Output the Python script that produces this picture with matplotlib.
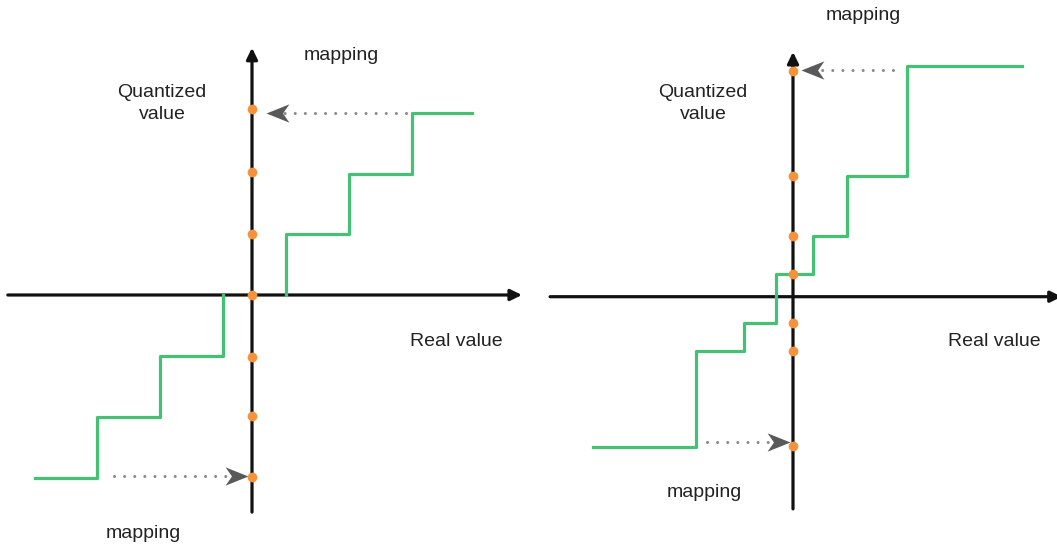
import numpy as np
import matplotlib.pyplot as plt
from matplotlib.path import Path

plt.rcParams['font.family'] = ['Liberation Sans', 'DejaVu Sans']

# units: one quantization step of the left (symmetric) scheme
# left panel - symmetric quantization
left_dots = [3.02, 2.0, 0.99, 0, -1.0, -1.97, -2.96]
left_neg_edges = [-3.53, -2.52, -1.50, -0.47]
left_neg_levels = [-2.97, -1.99, -0.99]
left_pos_edges = [0.55, 1.57, 2.60, 3.58]
left_pos_levels = [0.99, 1.97, 2.96]
left_map_top = (2.50, 0.22, 2.96)      # from x, to x, y
left_map_bot = (-2.24, -0.07, -2.94)

# right panel - asymmetric quantization
right_dots = [3.67, 1.96, 0.99, 0.37, -0.42, -0.88, -2.43]
right_edges = [-3.26, -1.57, -0.79, -0.28, 0.33, 0.87, 1.86, 3.73]
right_levels = [-2.44, -0.89, -0.42, 0.37, 0.99, 1.97, 3.75]
right_map_top = (1.63, 0.13, 3.69)
right_map_bot = (-1.40, -0.05, -2.36)

green = '#45c174'
orange = '#f7923a'
txt = '#222222'

W, H = 1057, 546
u = 61.5  # pixels per unit


def steps(edges, levels, start=None, end=None):
    xs, ys = [], []
    if start is not None:
        xs.append(edges[0]); ys.append(start)
    for i, lv in enumerate(levels):
        xs += [edges[i], edges[i + 1]]
        ys += [lv, lv]
    if end is not None:
        xs.append(edges[-1]); ys.append(end)
    return xs, ys


# stealth style arrow heads (tip at the data point)
head_r = Path([(0, 0), (-1, 0.4), (-0.72, 0), (-1, -0.4), (0, 0)],
              [Path.MOVETO, Path.LINETO, Path.LINETO, Path.LINETO, Path.CLOSEPOLY])
head_l = Path([(0, 0), (1, 0.4), (0.72, 0), (1, -0.4), (0, 0)],
              [Path.MOVETO, Path.LINETO, Path.LINETO, Path.LINETO, Path.CLOSEPOLY])


def mapping_arrow(ax, m):
    x0, x1, y = m
    ax.plot([x0, x1 + 0.3 * np.sign(x0 - x1)], [y, y], color='#8a8a8a', lw=2.2,
            linestyle=(0, (0.01, 3.3)), dash_capstyle='round', zorder=2)
    ax.plot([x1], [y], marker=head_l if x1 < x0 else head_r, ms=33,
            color='#595959', mec='none', zorder=3)


def panel(ax, ox, oy, x0px, x1px, hx, vy):
    ax.set_xlim((x0px - ox) / u, (x1px - ox) / u)
    ax.set_ylim((oy - H) / u, oy / u)
    ax.axis('off')
    ap = dict(arrowstyle='-|>,head_length=0.45,head_width=0.22', color='#111111',
              lw=2.3, mutation_scale=15, shrinkA=0, shrinkB=0)
    ax.annotate('', xy=(hx[1], 0), xytext=(hx[0], 0), arrowprops=ap, zorder=1,
                annotation_clip=False)
    ax.annotate('', xy=(0, vy[1]), xytext=(0, vy[0]), arrowprops=ap, zorder=1,
                annotation_clip=False)


fig = plt.figure(figsize=(W / 100, H / 100), dpi=100)

# ---- left
ax1 = fig.add_axes([0, 0, 528 / W, 1])
panel(ax1, 252, 295, 0, 528, (-3.97, 4.39), (-3.53, 4.02))
xs, ys = steps(left_neg_edges, left_neg_levels, end=0)
ax1.plot(xs, ys, color=green, lw=2.3, zorder=2)
xs, ys = steps(left_pos_edges, left_pos_levels, start=0)
ax1.plot(xs, ys, color=green, lw=2.3, zorder=2)
ax1.plot(np.zeros(len(left_dots)), left_dots, 'o', color=orange, ms=7, mec='none', zorder=4)
mapping_arrow(ax1, left_map_top)
mapping_arrow(ax1, left_map_bot)
ax1.text(-1.46, 3.11, 'Quantized\nvalue', ha='center', va='center', fontsize=14,
         color=txt, linespacing=1.4)
ax1.text(1.45, 3.90, 'mapping', ha='center', va='center', fontsize=14, color=txt)
ax1.text(3.32, -0.76, 'Real value', ha='center', va='center', fontsize=14, color=txt)
ax1.text(-1.76, -3.87, 'mapping', ha='center', va='center', fontsize=14, color=txt)

# ---- right
ax2 = fig.add_axes([528 / W, 0, 529 / W, 1])
panel(ax2, 793, 296.7, 528, 1057, (-3.95, 4.37), (-3.45, 3.98))
xs, ys = steps(right_edges, right_levels)
ax2.plot(xs, ys, color=green, lw=2.3, zorder=2)
ax2.plot(np.zeros(len(right_dots)), right_dots, 'o', color=orange, ms=7, mec='none', zorder=4)
mapping_arrow(ax2, right_map_top)
mapping_arrow(ax2, right_map_bot)
ax2.text(-1.46, 3.14, 'Quantized\nvalue', ha='center', va='center', fontsize=14,
         color=txt, linespacing=1.4)
ax2.text(1.15, 4.58, 'mapping', ha='center', va='center', fontsize=14, color=txt)
ax2.text(3.28, -0.73, 'Real value', ha='center', va='center', fontsize=14, color=txt)
ax2.text(-1.44, -3.19, 'mapping', ha='center', va='center', fontsize=14, color=txt)

plt.savefig('out.png', dpi=100)
